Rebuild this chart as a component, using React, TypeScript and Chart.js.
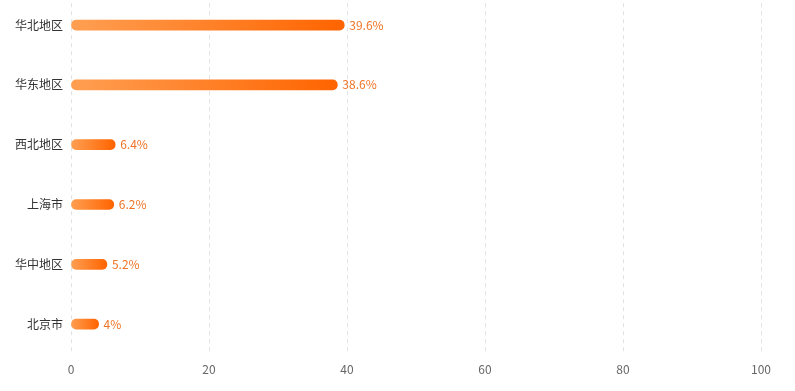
import React, { useEffect, useRef } from "react";
import { Chart, registerables } from "chart.js";

Chart.register(...registerables);

const categories = ["华北地区", "华东地区", "西北地区", "上海市", "华中地区", "北京市"];
const values = [39.6, 38.6, 6.4, 6.2, 5.2, 4];
const xTicks = [0, 20, 40, 60, 80, 100];

const FONT = "'Noto Sans CJK SC', 'Noto Sans', sans-serif";

const labelPlugin = {
  id: "barLabels",
  afterDatasetsDraw(chart: any) {
    const ctx = chart.ctx;
    const meta = chart.getDatasetMeta(0);
    ctx.save();
    ctx.font = `12px ${FONT}`;
    ctx.fillStyle = "#EE7426";
    ctx.textAlign = "left";
    ctx.textBaseline = "middle";
    meta.data.forEach((el: any, i: number) => {
      ctx.fillText(`${values[i]}%`, el.x + 5, el.y);
    });
    ctx.restore();
  },
};

export default function App() {
  const ref = useRef<HTMLCanvasElement>(null);
  useEffect(() => {
    document.body.style.margin = "0";
    const canvas = ref.current!;
    const chart = new Chart(canvas, {
      type: "bar",
      data: {
        labels: categories,
        datasets: [
          {
            data: values,
            barThickness: 10,
            borderRadius: 5,
            borderSkipped: false,
            backgroundColor: (c: any) => {
              const ch = c.chart;
              const xs = ch.scales && ch.scales.x;
              if (!ch.chartArea || !xs || c.raw == null) return "#FF7A1A";
              const x0 = xs.getPixelForValue(0);
              const x1 = xs.getPixelForValue(c.raw);
              if (!isFinite(x0) || !isFinite(x1) || x1 - x0 < 1) return "#FF7A1A";
              const g = ch.ctx.createLinearGradient(x0, 0, x1, 0);
              g.addColorStop(0, "#FF9F52");
              g.addColorStop(1, "#FF6400");
              return g;
            },
          },
        ],
      },
      options: {
        indexAxis: "y",
        animation: false,
        responsive: true,
        maintainAspectRatio: false,
        layout: { padding: { left: 0, right: 34, top: 0, bottom: 0 } },
        plugins: { legend: { display: false }, tooltip: { enabled: false } },
        scales: {
          x: {
            min: 0,
            max: 100,
            afterBuildTicks: (s: any) => {
              s.ticks = xTicks.map((v) => ({ value: v }));
            },
            afterFit: (s: any) => {
              s.height = 37;
            },
            grid: {
              color: "#E3E3E3",
              drawTicks: false,
            },
            border: { display: false, dash: [4, 4] },
            ticks: {
              padding: 8,
              color: "#666666",
              font: { family: FONT, size: 12 },
            },
          },
          y: {
            afterFit: (s: any) => {
              s.width = 71;
            },
            grid: { display: false, drawTicks: false },
            border: { display: false },
            ticks: {
              padding: 8,
              color: "#333333",
              font: { family: FONT, size: 12 },
            },
          },
        },
      },
      plugins: [labelPlugin],
    } as any);
    return () => chart.destroy();
  }, []);
  return (
    <div style={{ position: "absolute", left: 0, top: -20, width: 795, height: 411 }}>
      <canvas ref={ref} />
    </div>
  );
}
